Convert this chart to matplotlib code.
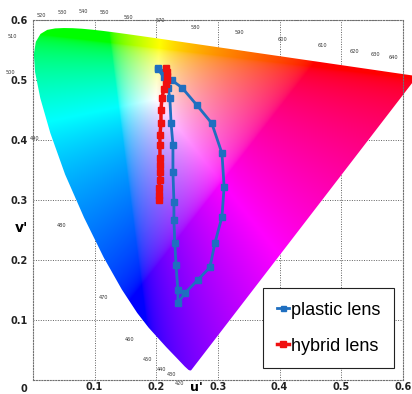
import numpy as np
import matplotlib
matplotlib.use("Agg")
import matplotlib.pyplot as plt
from matplotlib.patches import Polygon

# ---------------- data ----------------
# CIE 1931 2deg spectral locus (x, y)
wl = [380, 390, 400, 410, 420, 430, 440, 450, 460, 465, 470, 475, 480, 485, 490, 495,
      500, 505, 510, 515, 520, 525, 530, 535, 540, 545, 550, 555, 560, 565, 570, 575,
      580, 585, 590, 595, 600, 605, 610, 620, 630, 640, 650, 660, 680, 700]
loc_x = [0.1741, 0.1738, 0.1733, 0.1726, 0.1714, 0.1689, 0.1644, 0.1566, 0.1440, 0.1355,
         0.1241, 0.1096, 0.0913, 0.0687, 0.0454, 0.0235, 0.0082, 0.0039, 0.0139, 0.0389,
         0.0743, 0.1142, 0.1547, 0.1929, 0.2296, 0.2658, 0.3016, 0.3373, 0.3731, 0.4087,
         0.4441, 0.4788, 0.5125, 0.5448, 0.5752, 0.6029, 0.6270, 0.6482, 0.6658, 0.6915,
         0.7079, 0.7190, 0.7260, 0.7300, 0.7334, 0.7347]
loc_y = [0.0050, 0.0049, 0.0048, 0.0048, 0.0051, 0.0069, 0.0109, 0.0177, 0.0297, 0.0399,
         0.0578, 0.0868, 0.1327, 0.2007, 0.2950, 0.4127, 0.5384, 0.6548, 0.7502, 0.8120,
         0.8338, 0.8262, 0.8059, 0.7816, 0.7543, 0.7243, 0.6923, 0.6589, 0.6245, 0.5896,
         0.5547, 0.5202, 0.4866, 0.4544, 0.4242, 0.3965, 0.3725, 0.3514, 0.3340, 0.3083,
         0.2920, 0.2809, 0.2740, 0.2700, 0.2666, 0.2653]

# wavelength annotations (label, u', v')
wl_labels = ["520", "530", "540", "550", "560", "570", "580", "590", "600", "610", "620",
             "630", "640", "510", "500", "490", "480", "470", "460", "450", "440", "430", "420"]
wl_lab_u = [0.013, 0.047, 0.081, 0.115, 0.154, 0.206, 0.264, 0.334, 0.405, 0.470, 0.521,
            0.556, 0.585, -0.034, -0.036, 0.003, 0.047, 0.115, 0.157, 0.186, 0.209, 0.224, 0.237]
wl_lab_v = [0.608, 0.613, 0.615, 0.613, 0.605, 0.600, 0.588, 0.580, 0.567, 0.557, 0.548,
            0.543, 0.538, 0.572, 0.512, 0.403, 0.257, 0.138, 0.068, 0.035, 0.018, 0.010, -0.005]

plastic_u = [0.203, 0.214, 0.225, 0.242, 0.266, 0.290, 0.3065, 0.310, 0.3065, 0.295, 0.287,
             0.2675, 0.2465, 0.235, 0.235, 0.232, 0.230, 0.2286, 0.2286, 0.227, 0.227, 0.224,
             0.222, 0.219, 0.212, 0.203]
plastic_v = [0.520, 0.513, 0.500, 0.487, 0.458, 0.428, 0.378, 0.322, 0.272, 0.228, 0.188,
             0.167, 0.145, 0.128, 0.150, 0.192, 0.228, 0.267, 0.297, 0.347, 0.392, 0.428,
             0.470, 0.487, 0.505, 0.518]

hybrid_u = [0.2157, 0.2173, 0.2173, 0.2173, 0.2157, 0.2124, 0.2092, 0.2076, 0.2076, 0.2059,
            0.2059, 0.2059, 0.2059, 0.2059, 0.2059, 0.2043, 0.2043, 0.2043]
hybrid_v = [0.520, 0.513, 0.507, 0.500, 0.493, 0.485, 0.470, 0.450, 0.428, 0.408, 0.392,
            0.370, 0.358, 0.347, 0.333, 0.320, 0.308, 0.300]

ticks = [0.1, 0.2, 0.3, 0.4, 0.5, 0.6]
tick_labels = ["0.1", "0.2", "0.3", "0.4", "0.5", "0.6"]

# ---------------- figure ----------------
fig = plt.figure(figsize=(4.12, 3.94), dpi=100)
ax = fig.add_axes([0.080, 0.0355, 0.898, 0.9135])
ax.set_xlim(0, 0.6)
ax.set_ylim(0, 0.6)

lx = np.array(loc_x); ly = np.array(loc_y)
den = -2 * lx + 12 * ly + 3
lu = 4 * lx / den
lv = 9 * ly / den

# chromaticity image
uu, vv = np.meshgrid(np.linspace(-0.01, 0.65, 700), np.linspace(0, 0.62, 700))
d = 6 * uu - 16 * vv + 12
xx = 9 * uu / d
yy = 4 * vv / d
yy = np.where(yy <= 1e-4, 1e-4, yy)
X = xx / yy
Y = np.ones_like(X)
Z = (1 - xx - yy) / yy
M = np.array([[3.2406, -1.5372, -0.4986],
              [-0.9689, 1.8758, 0.0415],
              [0.0557, -0.2040, 1.0570]])
rgb = np.einsum('ij,jkl->kli', M, np.stack([X, Y, Z]))
rgb = np.clip(rgb, 0, None)
rgb = rgb / np.maximum(rgb.max(axis=2, keepdims=True), 1e-9)
rgb = np.where(rgb <= 0.0031308, 12.92 * rgb, 1.055 * np.power(rgb, 1 / 2.4) - 0.055)
rgb = np.clip(rgb, 0, 1)

im = ax.imshow(rgb, origin='lower', extent=(-0.01, 0.65, 0, 0.62), aspect='auto',
               interpolation='bilinear', zorder=1)
poly = Polygon(np.column_stack([lu, lv]), closed=True, transform=ax.transData,
               facecolor='none', edgecolor='none')
im.set_clip_path(poly)
im.set_clip_box(fig.bbox)

# grid
ax.set_xticks(ticks)
ax.set_yticks(ticks)
ax.grid(True, linestyle=(0, (1, 1.5)), color='#606060', linewidth=0.7, zorder=0)
ax.set_axisbelow(True)
for s in ax.spines.values():
    s.set_linestyle((0, (1, 1.5)))
    s.set_color('#707070')
    s.set_linewidth(0.8)
ax.tick_params(axis='x', length=0, pad=1.5, labelsize=7)
ax.tick_params(axis='y', length=0, pad=4, labelsize=7)
ax.set_xticklabels(tick_labels, fontweight='bold', color='#222222')
ax.set_yticklabels(tick_labels, fontweight='bold', color='#222222')
ax.text(-0.015, -0.006, "0", ha='center', va='top', fontsize=7, fontweight='bold',
        color='#222222')

# wavelength labels
for t, u, v in zip(wl_labels, wl_lab_u, wl_lab_v):
    ax.text(u, v, t, fontsize=3.6, ha='center', va='center', color='#333333', clip_on=False)

# series
blue = '#1f6fc0'
red = '#f01010'
ax.plot(plastic_u, plastic_v, '-s', color=blue, lw=2, ms=4.5, zorder=3, label='plastic lens')
ax.plot(hybrid_u, hybrid_v, '-s', color=red, lw=2.5, ms=5, zorder=4, label='hybrid lens')

# legend
leg = ax.legend(loc='lower right', bbox_to_anchor=(0.976, 0.033), frameon=True,
                fancybox=False, edgecolor='#222222', framealpha=1,
                prop={'family': 'Liberation Sans', 'size': 13}, handlelength=0.7,
                handletextpad=0.1, borderpad=0.75, labelspacing=1.05, markerscale=0.8,
                borderaxespad=0)
leg.get_frame().set_linewidth(0.8)

fig.text(0.053, 0.421, "v'", fontsize=10, fontweight='bold', ha='center', va='center')
fig.text(0.478, 0.001, "u'", fontsize=9, fontweight='bold', ha='center', va='bottom')

fig.savefig('out.png', dpi=100)
